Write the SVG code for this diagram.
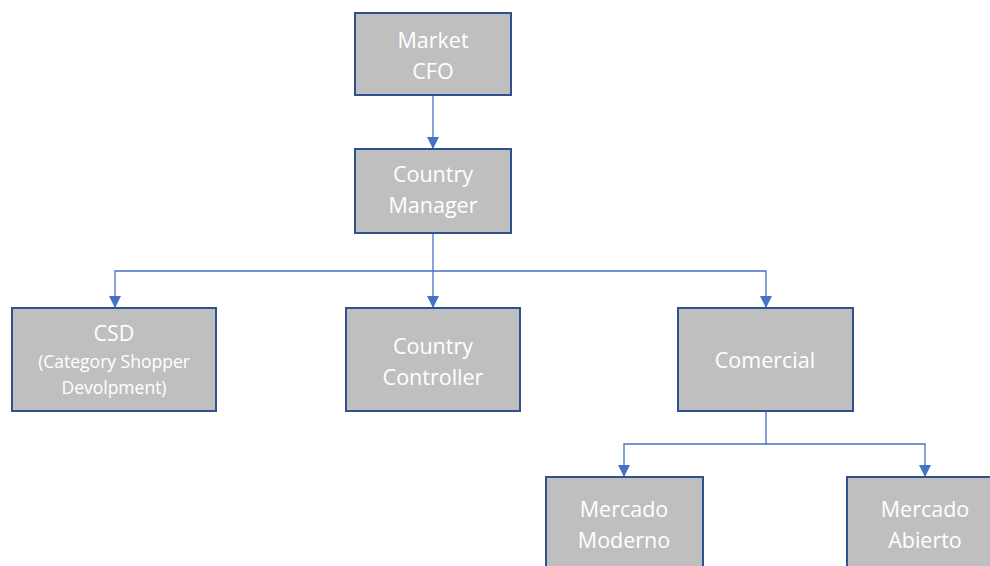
<svg xmlns="http://www.w3.org/2000/svg" width="990" height="566" viewBox="0 0 990 566">
<style>
.box{fill:#BFBFBF;stroke:#2F528F;stroke-width:2}
.t{fill:#FFFFFF;font-family:"Open Sans","Liberation Sans",sans-serif;font-size:21.5px;text-anchor:middle}
.s{font-size:17.5px}
.c{fill:none;stroke:#4472C4;stroke-width:1.3}
</style>
<defs>
<marker id="a" viewBox="0 0 12 12" refX="12" refY="6" markerWidth="12" markerHeight="12" markerUnits="userSpaceOnUse" orient="auto">
<path d="M0,0 L12,6 L0,12 Z" fill="#4472C4"/>
</marker>
</defs>
<rect width="990" height="566" fill="#FFFFFF"/>
<g id="connectors">
<path class="c" d="M433,95 V149" marker-end="url(#a)"/>
<path class="c" d="M433,233 V308" marker-end="url(#a)"/>
<path class="c" d="M433,271 H115 V308" marker-end="url(#a)"/>
<path class="c" d="M433,271 H766 V308" marker-end="url(#a)"/>
<path class="c" d="M766,411 V444 H624 V477" marker-end="url(#a)"/>
<path class="c" d="M766,444 H925 V477" marker-end="url(#a)"/>
</g>
<g id="market-cfo">
<rect class="box" x="355" y="13" width="156" height="82"/>
<text class="t" x="433" y="48">Market</text>
<text class="t" x="433" y="79">CFO</text>
</g>
<g id="country-manager">
<rect class="box" x="355" y="149" width="156" height="84"/>
<text class="t" x="433" y="182">Country</text>
<text class="t" x="433" y="213">Manager</text>
</g>
<g id="csd">
<rect class="box" x="12" y="308" width="204" height="103"/>
<text class="t" x="114" y="341">CSD</text>
<text class="t s" x="114" y="368">(Category Shopper</text>
<text class="t s" x="114" y="394">Devolpment)</text>
</g>
<g id="country-controller">
<rect class="box" x="346" y="308" width="174" height="103"/>
<text class="t" x="433" y="354">Country</text>
<text class="t" x="433" y="385">Controller</text>
</g>
<g id="comercial">
<rect class="box" x="678" y="308" width="175" height="103"/>
<text class="t" x="765" y="368">Comercial</text>
</g>
<g id="mercado-moderno">
<rect class="box" x="546" y="477" width="157" height="100"/>
<text class="t" x="624" y="517">Mercado</text>
<text class="t" x="624" y="548">Moderno</text>
</g>
<g id="mercado-abierto">
<rect class="box" x="847" y="477" width="157" height="100"/>
<text class="t" x="925" y="517">Mercado</text>
<text class="t" x="925" y="548">Abierto</text>
</g>
</svg>
